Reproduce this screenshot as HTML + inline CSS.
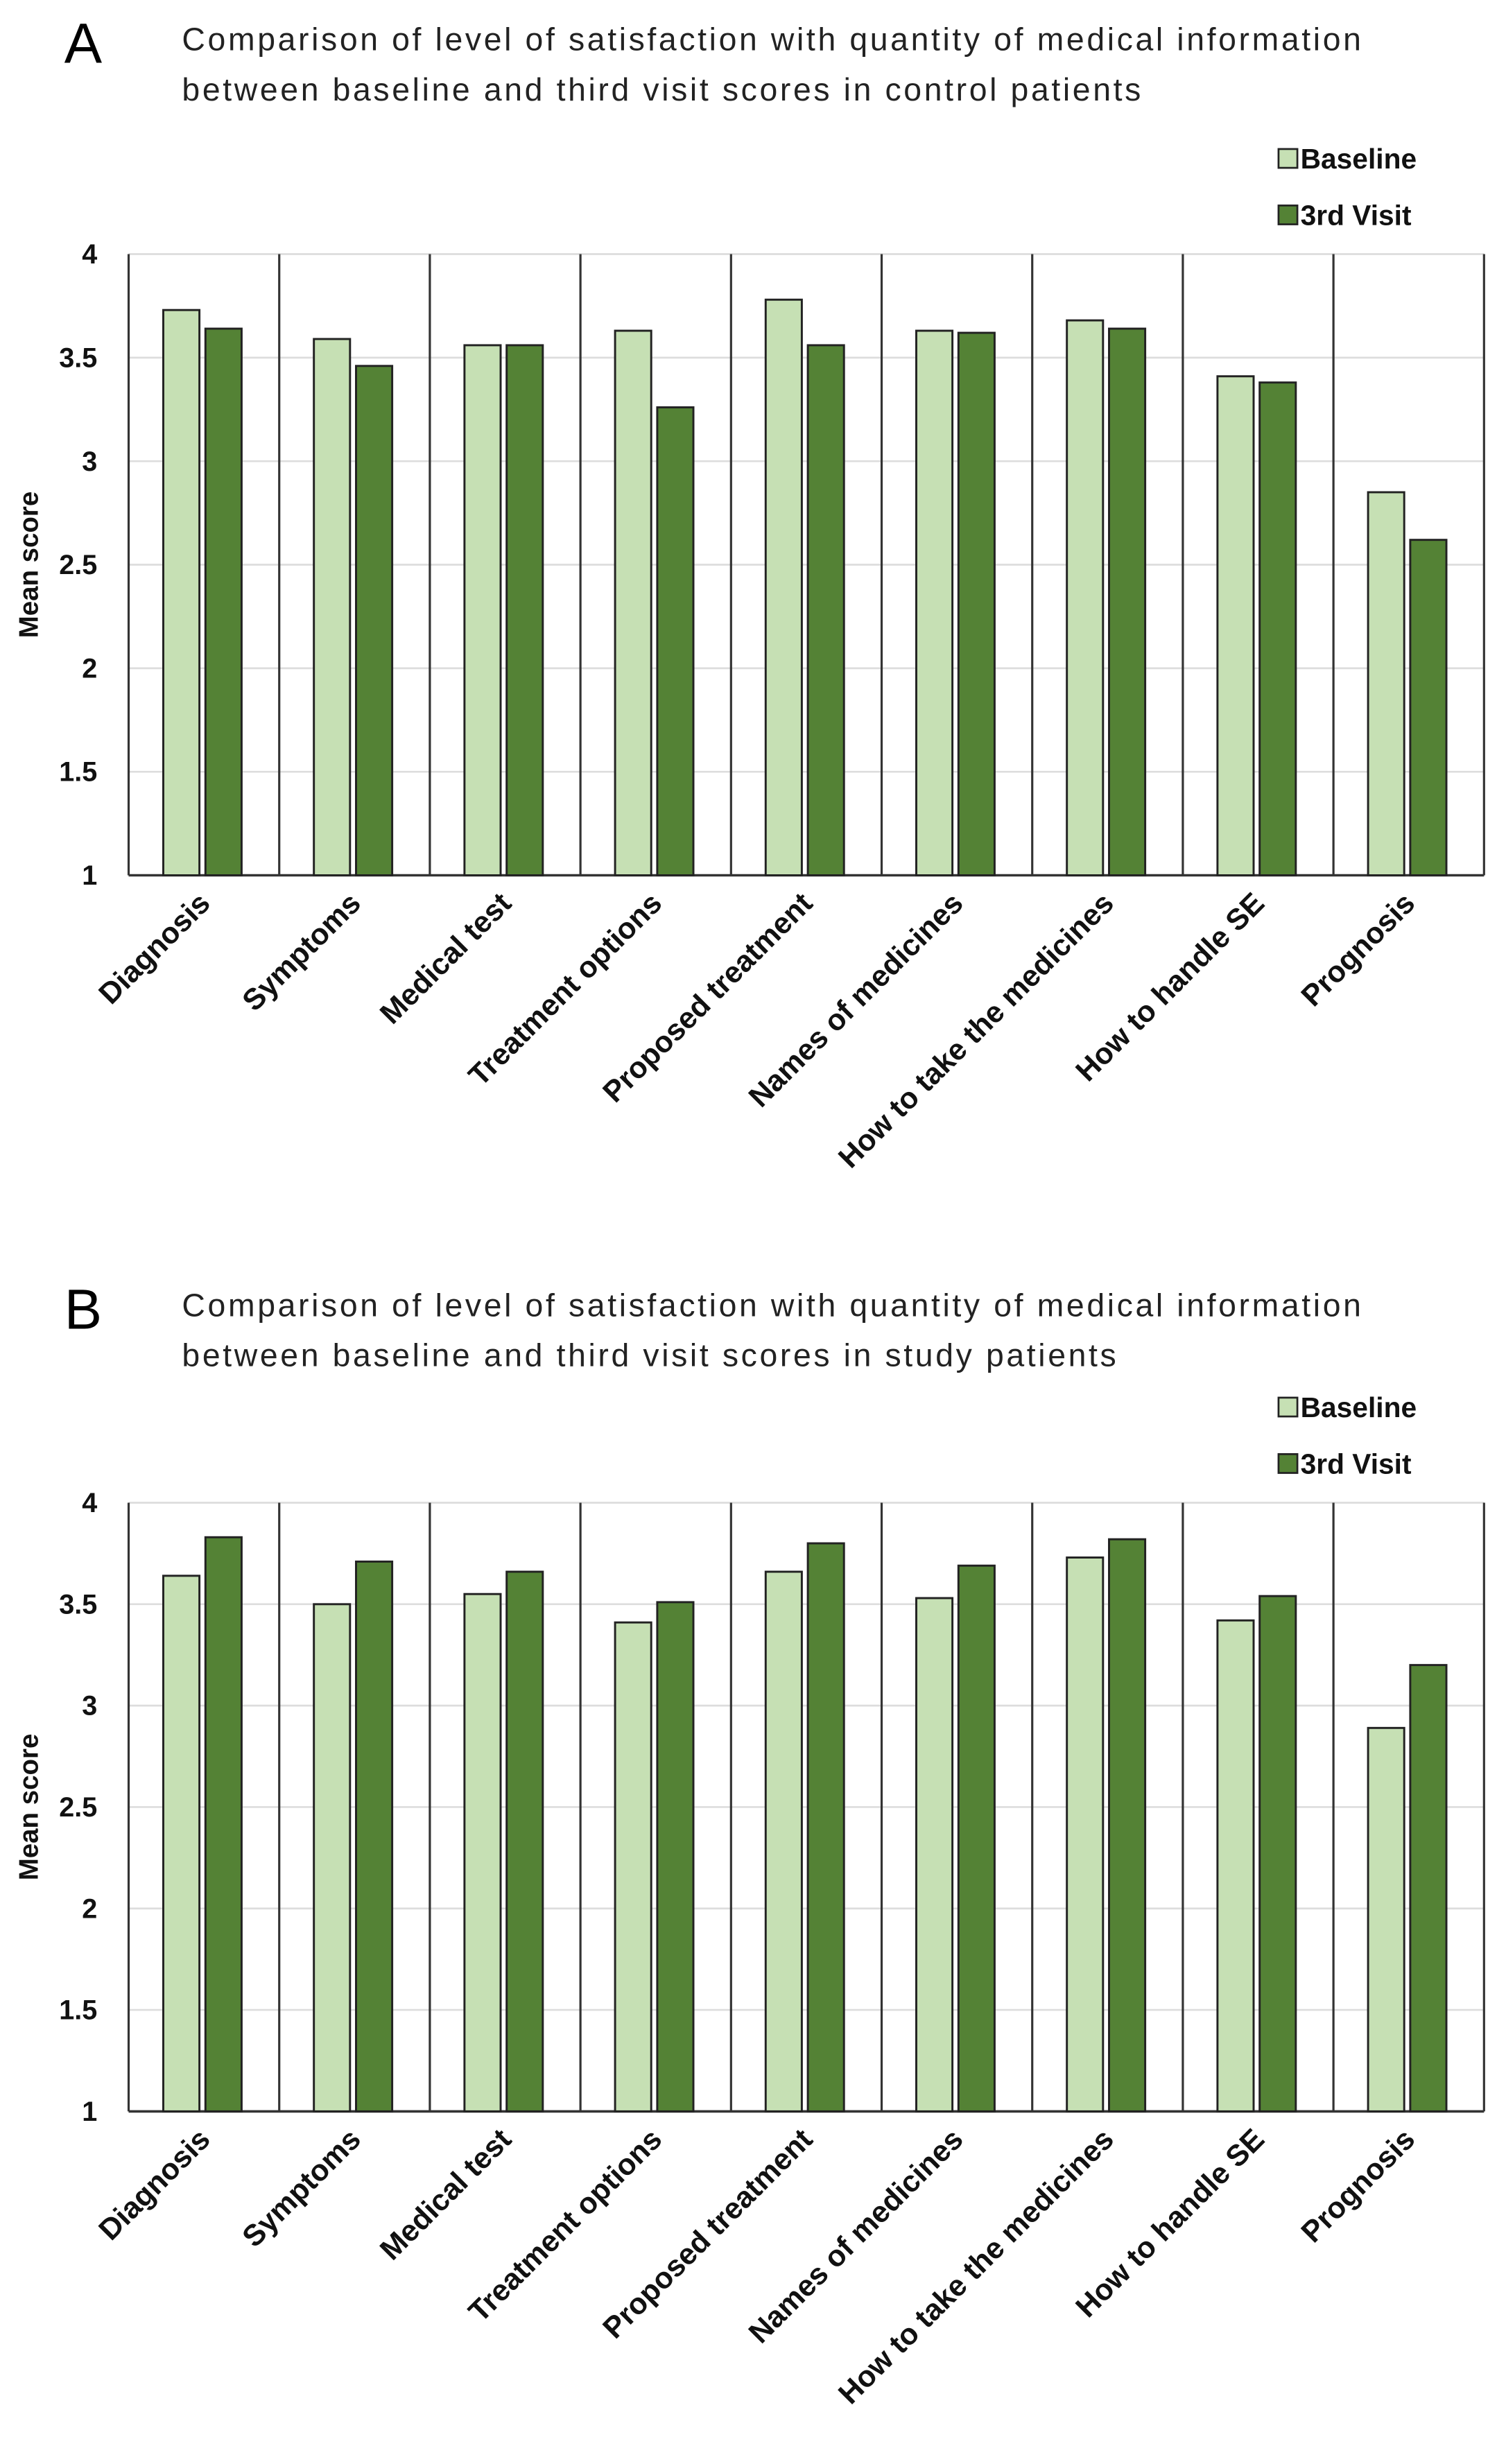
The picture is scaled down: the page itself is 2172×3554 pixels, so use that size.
<!DOCTYPE html>
<html><head><meta charset="utf-8"><style>
html,body{margin:0;padding:0;background:#fff;}
svg{display:block;}
text{font-family:"Liberation Sans",sans-serif;}
</style></head><body>
<svg id="chart" width="2172" height="3554" viewBox="0 0 960 1570.8" preserveAspectRatio="none" xmlns="http://www.w3.org/2000/svg"></svg>
<script>
const categories = ["Diagnosis","Symptoms","Medical test","Treatment options","Proposed treatment","Names of medicines","How to take the medicines","How to handle SE","Prognosis"];
const baselineA = [3.73,3.59,3.56,3.63,3.78,3.63,3.68,3.41,2.85];
const visitA = [3.64,3.46,3.56,3.26,3.56,3.62,3.64,3.38,2.62];
const baselineB = [3.64,3.50,3.55,3.41,3.66,3.53,3.73,3.42,2.89];
const visitB = [3.83,3.71,3.66,3.51,3.80,3.69,3.82,3.54,3.20];
const yTicks = [1,1.5,2,2.5,3,3.5,4];
const yTickLabels = ["1","1.5","2","2.5","3","3.5","4"];
const seriesNames = ["Baseline","3rd Visit"];
const titleA = ["Comparison of level of satisfaction with quantity of medical information","between  baseline and third visit scores in control patients"];
const titleB = ["Comparison of level of satisfaction with quantity of medical information","between  baseline and third visit scores in study patients"];

const NS="http://www.w3.org/2000/svg";
const svg=document.getElementById('chart');
function mk(tag,attrs,parent){const e=document.createElementNS(NS,tag);for(const k in attrs)e.setAttribute(k,attrs[k]);(parent||svg).appendChild(e);return e;}
const colors=["#c6e0b4","#548235"];

function panel(letter,titleLines,base,visit,top,bottom,titleY,key){
  const g=mk('g',{});
  
  
  const L=82,R=946,ymin=1,ymax=4;
  const cw=(R-L)/categories.length;
  const y=v=>bottom-(v-ymin)/(ymax-ymin)*(bottom-top);
  const x=i=>L+i*cw;
  const lt=mk('text',{x:41,y:titleY+15,'font-size':36},g);lt.textContent=letter;
  
  
  titleLines.forEach((t,i)=>{const e=mk('text',{x:116,y:titleY+7+i*32,'font-size':20.5,fill:'#222','letter-spacing':'1.6'},g);e.textContent=t;
    
    });
  yTicks.forEach((t,i)=>{
    const gl=mk('line',{x1:L,x2:R,y1:y(t),y2:y(t),stroke:'#dddddd','stroke-width':1.2},g);
    
    
    const tl=mk('text',{x:62,y:y(t)+6,'font-size':17.5,'font-weight':'bold','text-anchor':'end',fill:'#111'},g);
    tl.textContent=yTickLabels[i];
    
    
  });
  const yt=mk('text',{transform:`translate(24,${(top+bottom)/2}) rotate(-90)`,'font-size':17,'font-weight':'bold','text-anchor':'middle',fill:'#111'},g);
  yt.textContent='Mean score';
  
  
  for(let i=0;i<=categories.length;i++){
    const d=mk('line',{x1:x(i),x2:x(i),y1:top,y2:bottom,stroke:'#333','stroke-width':1.4},g);
    
    
  }
  const ax=mk('line',{x1:L,x2:R,y1:bottom,y2:bottom,stroke:'#333','stroke-width':1.6},g);
  
  
  categories.forEach((c,i)=>{
    [base,visit].forEach((arr,s)=>{
      const bx=x(i)+cw*(s===0?0.23:0.51);
      const b=mk('rect',{x:bx,y:y(arr[i]),width:cw*0.24,height:bottom-y(arr[i]),fill:colors[s],stroke:'#222','stroke-width':1.3},g);
      
      
    });
    const cx=x(i)+cw/2+5, cy=bottom+19;
    const lab=mk('text',{transform:`translate(${cx},${cy}) rotate(-45)`,'font-size':19,'font-weight':'bold','text-anchor':'end',fill:'#111'},g);
    lab.textContent=c;
    
    
  });
  seriesNames.forEach((n,s)=>{
    const ly=top-61+s*36;
    const sq=mk('rect',{x:815,y:ly-6,width:12,height:12,fill:colors[s],stroke:'#222','stroke-width':1.2},g);
    
    
    const t=mk('text',{x:829,y:ly+6.5,'font-size':18,'font-weight':'bold',fill:'#111'},g);
    t.textContent=n;
    
    
  });
}
panel('A',titleA,baselineA,visitA,162,558,25,'a');
panel('B',titleB,baselineB,visitB,958,1346,832,'b');
</script>
</body></html>
